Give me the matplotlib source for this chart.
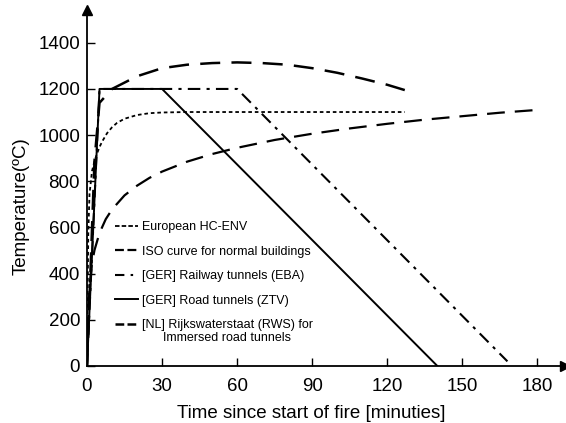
import matplotlib.pyplot as plt
from matplotlib.lines import Line2D

plt.rcParams['font.family'] = ['Liberation Sans', 'DejaVu Sans']

# time [min] / temperature [deg C] pairs for each fire curve
hc_t = [0, 0.5, 1, 2, 3, 4, 5, 6, 8, 10, 12, 15, 20, 25, 30, 40, 60, 90, 127]
hc_T = [0, 569, 744, 844, 887, 920, 948, 971, 1008, 1034, 1053, 1071, 1087, 1095, 1098, 1100, 1100, 1100, 1100]

iso_t = [0, 1, 2, 3, 5, 7.5, 10, 15, 20, 25, 30, 40, 50, 60, 75, 90, 105, 120, 135, 150, 165, 181]
iso_T = [0, 349, 445, 502, 576, 636, 678, 739, 781, 815, 842, 885, 918, 945, 979, 1006, 1029, 1049, 1067, 1082, 1097, 1110]

eba_t = [0, 5, 60, 168]
eba_T = [0, 1200, 1200, 20]

ztv_t = [0, 5, 30, 140]
ztv_T = [0, 1200, 1200, 0]

rws_t = [0, 3, 5, 10, 20, 30, 40, 50, 60, 70, 80, 90, 100, 110, 120, 127]
rws_T = [0, 890, 1140, 1200, 1255, 1290, 1305, 1312, 1315, 1312, 1305, 1290, 1270, 1245, 1218, 1195]

labels = ['European HC-ENV',
          'ISO curve for normal buildings',
          '[GER] Railway tunnels (EBA)',
          '[GER] Road tunnels (ZTV)',
          '[NL] Rijkswaterstaat (RWS) for']
label_extra = 'Immersed road tunnels'

fig = plt.figure(figsize=(5.66, 4.23), dpi=100)
ax = fig.add_axes([0.1537, 0.1348, 0.8445, 0.8405])

ax.plot(hc_t, hc_T, color='black', lw=1.3, dashes=(2.0, 1.6))
ax.plot(iso_t, iso_T, color='black', lw=1.6, dashes=(8, 4.5))
ax.plot(eba_t, eba_T, color='black', lw=1.5, dashes=(6, 3, 1.5, 3))
ax.plot(ztv_t, ztv_T, color='black', lw=1.4)
ax.plot(rws_t, rws_T, color='black', lw=1.8, dashes=(8, 4.5))

ax.set_xlim(0, 191)
ax.set_ylim(0, 1540)
ax.set_xticks(range(0, 181, 30))
ax.set_yticks(range(0, 1401, 200))
ax.tick_params(direction='in', length=6, width=1, labelsize=13.5)
ax.tick_params(axis='x', pad=9)
ax.tick_params(axis='y', pad=5)

for side in ('top', 'right'):
    ax.spines[side].set_visible(False)
for side in ('left', 'bottom'):
    ax.spines[side].set_linewidth(1.3)

# arrow heads on the axes
ax.plot(1, 0, '>', color='black', ms=7, transform=ax.transAxes, clip_on=False)
ax.plot(0, 1, '^', color='black', ms=7, transform=ax.transAxes, clip_on=False)

ax.set_xlabel('Time since start of fire [minuties]', fontsize=13.5)
ax.xaxis.set_label_coords(0.469, -0.11)
ax.set_ylabel('Temperature(\u00baC)', fontsize=13.5)
ax.yaxis.set_label_coords(-0.12, 0.45)

# short legend keys
handles = [Line2D([], [], color='black', lw=1.3, dashes=(2.5, 1.2)),
           Line2D([], [], color='black', lw=1.6, dashes=(4, 1.6)),
           Line2D([], [], color='black', lw=1.5, dashes=(4.5, 3, 1.2, 3)),
           Line2D([], [], color='black', lw=1.4),
           Line2D([], [], color='black', lw=1.8, dashes=(3.5, 1.3))]

leg = ax.legend(handles, labels, loc='upper left', bbox_to_anchor=(0.058, 0.407),
                frameon=False, fontsize=9, handlelength=1.9, handletextpad=0.25,
                labelspacing=1.0, borderaxespad=0, borderpad=0)

fig.canvas.draw()
bb = leg.get_texts()[-1].get_window_extent()
fx = (bb.x0 + bb.x1) / 2 / fig.bbox.width
fy = (bb.y0 - 7) / fig.bbox.height
fig.text(fx, fy, label_extra, fontsize=9, ha='center', va='center')

fig.savefig('out.png', dpi=100)
